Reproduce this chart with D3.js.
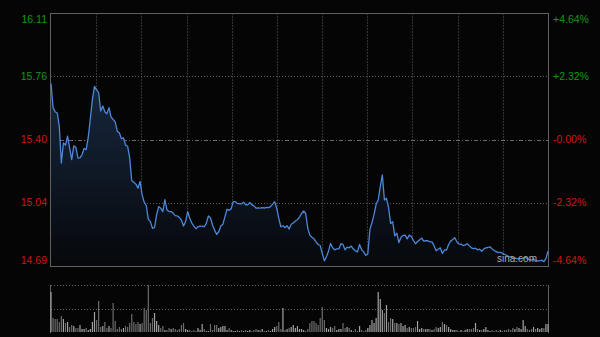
<!DOCTYPE html>
<html>
<head>
<meta charset="utf-8">
<script src="https://cdn.jsdelivr.net/npm/d3@7"></script>
<style>
  html, body { margin: 0; padding: 0; background: #050505; }
  svg { display: block; }
</style>
</head>
<body>
<div id="main"></div>
<script>
// prev close and the +/- % band shown on the axes
const prevClose = 15.40
const pctTicks = [4.64, 2.32, 0, -2.32, -4.64]
const priceLabels = ["16.11", "15.76", "15.40", "15.04", "14.69"]
const pctLabels = ["+4.64%", "+2.32%", "-0.00%", "-2.32%", "-4.64%"]

// intraday price, one reading per step
const prices = [
  15.716, 15.580, 15.557, 15.550, 15.476, 15.267, 15.381, 15.368, 15.419, 15.353,
  15.286, 15.364, 15.356, 15.296, 15.296, 15.315, 15.349, 15.343, 15.413, 15.519,
  15.627, 15.700, 15.680, 15.665, 15.561, 15.589, 15.557, 15.546, 15.580, 15.527,
  15.514, 15.500, 15.447, 15.438, 15.404, 15.410, 15.368, 15.362, 15.296, 15.167,
  15.159, 15.148, 15.125, 15.163, 15.087, 15.046, 15.027, 14.949, 14.936, 14.898,
  14.903, 14.974, 15.021, 15.012, 14.993, 15.060, 15.002, 14.993, 14.993, 14.983,
  14.970, 14.968, 14.960, 14.945, 14.911, 14.936, 14.993, 14.955, 14.928, 14.911,
  14.896, 14.907, 14.911, 14.911, 14.907, 14.926, 14.968, 14.958, 14.917, 14.888,
  14.864, 14.879, 14.911, 14.921, 14.964, 15.006, 15.000, 15.008, 15.049, 15.049,
  15.038, 15.038, 15.036, 15.046, 15.031, 15.031, 15.044, 15.031, 15.025, 15.012,
  15.013, 15.012, 15.015, 15.013, 15.017, 15.015, 15.021, 15.034, 15.049, 15.012,
  14.955, 14.907, 14.913, 14.902, 14.913, 14.894, 14.921, 14.928, 14.940, 14.947,
  14.962, 14.983, 14.996, 14.983, 14.898, 14.860, 14.848, 14.839, 14.822, 14.807,
  14.801, 14.756, 14.714, 14.737, 14.769, 14.813, 14.788, 14.777, 14.782, 14.782,
  14.811, 14.807, 14.777, 14.792, 14.788, 14.798, 14.781, 14.771, 14.765, 14.807,
  14.777, 14.765, 14.745, 14.755, 14.892, 14.930, 14.977, 15.034, 15.058, 15.134,
  15.200, 15.058, 15.068, 15.017, 14.926, 14.936, 14.856, 14.871, 14.818, 14.848,
  14.858, 14.860, 14.839, 14.860, 14.852, 14.830, 14.811, 14.824, 14.833, 14.843,
  14.826, 14.828, 14.828, 14.822, 14.822, 14.799, 14.771, 14.780, 14.788, 14.756,
  14.777, 14.775, 14.807, 14.826, 14.835, 14.845, 14.822, 14.809, 14.809, 14.801,
  14.805, 14.811, 14.799, 14.788, 14.784, 14.786, 14.777, 14.781, 14.769, 14.782,
  14.788, 14.790, 14.794, 14.782, 14.773, 14.767, 14.761, 14.763, 14.758, 14.752,
  14.746, 14.739, 14.737, 14.729, 14.731, 14.727, 14.727, 14.727, 14.727, 14.735,
  14.727, 14.722, 14.718, 14.727, 14.714, 14.714, 14.714, 14.718, 14.710, 14.727,
  14.769
]

// volume per step (thousand shares)
const volumes = [
  400, 140, 130, 130, 100, 160, 130, 90, 100, 50,
  70, 60, 40, 40, 70, 30, 30, 40, 20, 30,
  100, 200, 120, 310, 50, 60, 100, 40, 60, 40,
  290, 110, 30, 50, 30, 40, 60, 50, 90, 180,
  100, 80, 100, 80, 90, 240, 220, 470, 90, 140,
  190, 110, 70, 40, 60, 20, 20, 40, 30, 40,
  30, 20, 30, 70, 90, 30, 20, 20, 10, 20,
  10, 40, 20, 80, 30, 10, 10, 80, 20, 70,
  70, 40, 50, 60, 60, 20, 40, 20, 10, 10,
  20, 10, 20, 10, 20, 10, 20, 10, 20, 30,
  20, 20, 30, 10, 10, 20, 10, 30, 50, 60,
  100, 30, 240, 20, 30, 40, 50, 70, 40, 60,
  30, 30, 20, 10, 30, 90, 110, 110, 90, 70,
  140, 250, 120, 40, 30, 50, 40, 60, 20, 30,
  30, 90, 40, 50, 40, 20, 10, 30, 10, 60,
  20, 10, 20, 40, 70, 120, 90, 140, 400, 330,
  220, 190, 270, 100, 140, 130, 90, 90, 80, 90,
  60, 70, 40, 50, 40, 40, 50, 110, 30, 40,
  30, 30, 30, 30, 20, 30, 50, 40, 50, 100,
  80, 70, 50, 30, 20, 20, 20, 10, 20, 10,
  20, 30, 30, 30, 40, 90, 30, 20, 20, 30,
  50, 20, 10, 20, 10, 20, 10, 20, 10, 20,
  20, 30, 20, 40, 30, 50, 40, 30, 120, 60,
  30, 20, 30, 50, 30, 40, 30, 40, 40, 80,
  80
]

const gridDivisions = 11

class GraficoMinuto {
  constructor(config) {
    this.config = config
    this.svg = d3.select(config.div)
      .append("svg")
      .attr("width", config.width)
      .attr("height", config.height)
    this.svg.append("rect")
      .attr("width", config.width)
      .attr("height", config.height)
      .attr("fill", "#050505")
  }

  createScales() {
    const c = this.config
    const band = pctTicks[0] / 100
    this.x = d3.scaleLinear().domain([0, prices.length - 1]).range([c.left, c.right])
    this.y = d3.scaleLinear()
      .domain([prevClose * (1 - band), prevClose * (1 + band)])
      .range([c.bottom, c.top])
    this.yVol = d3.scaleLinear()
      .domain([0, d3.max(volumes)])
      .range([c.volBottom, c.volTop])
  }

  createGrid() {
    const c = this.config
    const g = this.svg.append("g")
    const n = prices.length - 1

    // vertical grid
    d3.range(1, gridDivisions).forEach(k => {
      const xx = Math.round(this.x(k * n / gridDivisions)) + 0.5
      g.append("line")
        .attr("x1", xx).attr("x2", xx)
        .attr("y1", c.top).attr("y2", c.bottom)
        .attr("stroke", "#343434")
        .attr("stroke-dasharray", "2,1")
    })

    // horizontal grid
    pctTicks.slice(1, -1).forEach(p => {
      const yy = Math.round(this.y(prevClose * (1 + p / 100))) + 0.5
      g.append("line")
        .attr("x1", c.left).attr("x2", c.right)
        .attr("y1", yy).attr("y2", yy)
        .attr("stroke", p === 0 ? "#6a6a6a" : "#5a5a5a")
        .attr("stroke-dasharray", p === 0 ? "4,2,1,2" : "1,2")
    })

    g.append("rect")
      .attr("x", c.left - 0.5).attr("y", c.top + 0.5)
      .attr("width", c.right - c.left + 1).attr("height", c.bottom - c.top)
      .attr("fill", "none")
      .attr("stroke", "#606060")

    // volume panel frame
    const vg = this.svg.append("g")
    ;[c.volTop, (c.volTop + c.volBottom) / 2].forEach(v => {
      vg.append("line")
        .attr("x1", c.left).attr("x2", c.right)
        .attr("y1", Math.round(v) + 0.5).attr("y2", Math.round(v) + 0.5)
        .attr("stroke", "#5a5a5a")
        .attr("stroke-dasharray", "1,2")
    })
    ;[c.left - 0.5, c.right + 0.5].forEach(xx => {
      vg.append("line")
        .attr("x1", xx).attr("x2", xx)
        .attr("y1", c.volTop).attr("y2", c.volBottom + 1)
        .attr("stroke", "#606060")
    })
  }

  createLine() {
    const c = this.config
    const defs = this.svg.append("defs")
    const grad = defs.append("linearGradient")
      .attr("id", "areaFill")
      .attr("gradientUnits", "userSpaceOnUse")
      .attr("x1", 0).attr("x2", 0)
      .attr("y1", this.y(d3.max(prices))).attr("y2", c.bottom)
    grad.append("stop").attr("offset", 0).attr("stop-color", "#17273e")
    grad.append("stop").attr("offset", 1).attr("stop-color", "#06080b")

    const area = d3.area()
      .x((d, i) => this.x(i))
      .y0(c.bottom)
      .y1(d => this.y(d))
    const line = d3.line()
      .x((d, i) => this.x(i))
      .y(d => this.y(d))

    this.svg.append("path")
      .datum(prices)
      .attr("d", area)
      .attr("fill", "url(#areaFill)")

    this.svg.append("path")
      .datum(prices)
      .attr("d", line)
      .attr("fill", "none")
      .attr("stroke", "#4c87d8")
      .attr("stroke-width", 1.3)
      .attr("stroke-linejoin", "round")
  }

  createVolume() {
    const c = this.config
    this.svg.append("g")
      .selectAll("rect")
      .data(volumes)
      .enter()
      .append("rect")
        .attr("x", (d, i) => this.x(i) - 0.6)
        .attr("y", d => this.yVol(d))
        .attr("width", 1.2)
        .attr("height", d => c.volBottom - this.yVol(d))
        .attr("fill", (d, i) => (i > 0 && prices[i] < prices[i - 1]) ? "#6c6c6c" : "#a2a2a2")
  }

  createLabels() {
    const c = this.config
    const font = "'Liberation Sans', Arial, sans-serif"
    const last = pctTicks.length - 1
    const posY = (p, i) => {
      const yy = this.y(prevClose * (1 + p / 100))
      if (i === 0) return yy + 6
      if (i === last) return yy - 6
      return yy
    }
    const color = p => p > 0 ? "#159815" : "#cf1515"

    this.svg.append("g")
      .selectAll("text")
      .data(pctTicks)
      .enter()
      .append("text")
        .attr("x", c.left - 4)
        .attr("y", (p, i) => posY(p, i))
        .attr("dy", "0.35em")
        .attr("text-anchor", "end")
        .style("font-family", font)
        .style("font-size", "10.5px")
        .attr("fill", color)
        .text((p, i) => priceLabels[i])

    this.svg.append("g")
      .selectAll("text")
      .data(pctTicks)
      .enter()
      .append("text")
        .attr("x", c.right + 5)
        .attr("y", (p, i) => posY(p, i))
        .attr("dy", "0.35em")
        .attr("text-anchor", "start")
        .style("font-family", font)
        .style("font-size", "10.5px")
        .attr("fill", color)
        .text((p, i) => pctLabels[i])

    this.svg.append("text")
      .attr("x", c.right - 11)
      .attr("y", c.bottom - 4)
      .attr("text-anchor", "end")
      .style("font-family", font)
      .style("font-size", "10px")
      .attr("fill", "#a8a8a8")
      .text("sina.com")
  }
}

function main() {
  let c = {div: "#main", width: 600, height: 337, left: 51, right: 548, top: 13, bottom: 266, volTop: 285, volBottom: 332}
  let a = new GraficoMinuto(c)
  a.createScales()
  a.createGrid()
  a.createLine()
  a.createVolume()
  a.createLabels()
}

main()
</script>
</body>
</html>
